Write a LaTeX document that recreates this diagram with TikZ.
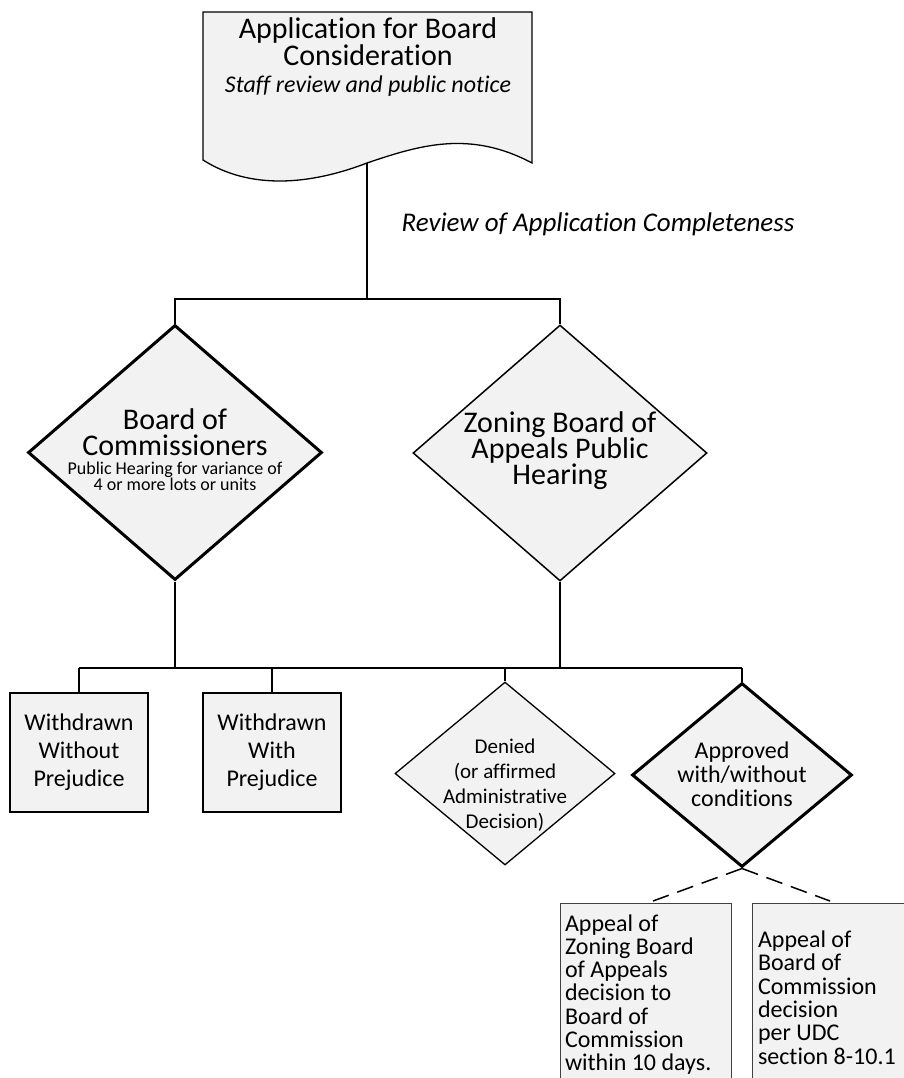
\documentclass[tikz,border=0pt]{standalone}
\usepackage{fontspec}
\setmainfont{Carlito}[Ligatures=NoCommon]
\usetikzlibrary{shapes.geometric}
\newcommand{\fsz}[2]{\fontsize{#1}{#2}\selectfont}
\definecolor{boxgray}{HTML}{F2F2F2}
\tikzset{
  decision/.style={diamond, draw, fill=boxgray, inner sep=0pt},
  outcome/.style={rectangle, draw, fill=boxgray, line width=2.2pt, inner sep=0pt, align=center},
  appealbox/.style={rectangle, draw=black!75, fill=boxgray, line width=1pt, anchor=north, inner xsep=5pt, align=flush left},
  captxt/.style={align=center, inner sep=0pt},
  link/.style={line width=1.2pt},
  trunk/.style={line width=2.2pt},
}
\begin{document}
\begin{tikzpicture}[x=1pt, y=-1pt, line join=miter]
	\useasboundingbox (0,0) rectangle (904,1078);
	\clip (0,0) rectangle (904,1078);
	\path (367,163) coordinate (appbot) (367,299) coordinate (split) (400,668) coordinate (bus);
	% application sheet
	\draw[fill=boxgray, line width=1.3pt] (203,12) -- (532,12) -- (532,163) .. controls (470,130) and (420,145) .. (appbot) .. controls (310,185) and (250,190) .. (203,160) -- cycle;
	\node[captxt, font=\fsz{30}{27}] (app) at (368,57) {Application for Board\\Consideration\\{\itshape\fsz{24}{24}Staff review and public notice}};
	\node[captxt, font=\itshape\fsz{27}{27}, anchor=base] (review) at (598,231) {Review of Application Completeness};
	% hearings
	\node[decision, line width=3pt, minimum width=294pt, minimum height=255pt] (board) at (175,452.5) {};
	\node[captxt, font=\fsz{30}{26}] (boardtxt) at (175,450) {Board of\\Commissioners\\[-7pt]{\fsz{18}{17}Public Hearing for variance of}\\[-10pt]{\fsz{18}{17}4 or more lots or units}};
	\node[decision, line width=1.5pt, minimum width=294pt, minimum height=256pt] (zba) at (560,453) {};
	\node[captxt, font=\fsz{30}{26}] (zbatxt) at (560,451) {Zoning Board of\\Appeals Public\\Hearing};
	% outcomes
	\node[outcome, minimum width=138pt, minimum height=119pt, font=\fsz{24}{28}] (wo) at (79,752.5) {Withdrawn\\Without\\Prejudice};
	\node[outcome, minimum width=138pt, minimum height=119pt, font=\fsz{24}{28}] (wp) at (272,752.5) {Withdrawn\\With\\Prejudice};
	\node[decision, line width=1.3pt, minimum width=220pt, minimum height=183pt] (denied) at (505,773.5) {};
	\node[captxt, font=\fsz{21}{25}] (deniedtxt) at (505,785) {Denied\\(or affirmed\\Administrative\\Decision)};
	\node[decision, line width=3pt, minimum width=220pt, minimum height=184pt] (approved) at (742,775) {};
	\node[captxt, font=\fsz{24}{24}] (approvedtxt) at (742,774) {Approved\\with/without\\conditions};
	% appeals
	\node[appealbox, minimum height=182pt, text width=161pt, font=\fsz{24}{23.3}] (appeal1) at (645.5,903) {Appeal of\\Zoning Board\\of Appeals\\decision to\\Board of\\Commission\\within 10 days.};
	\node[appealbox, minimum height=188pt, text width=154pt, inner xsep=6pt, font=\fsz{24}{23.3}] (appeal2) at (835,903) {Appeal of\\Board of\\Commission\\decision\\per UDC\\section 8-10.1};
	% connectors
	\draw[link] (appbot) -- (split);
	\draw[link] (board.north) |- (split) -| (zba.north);
	\draw[trunk] (board.south) -- (board.south |- bus);
	\draw[trunk] (zba.south) -- (zba.south |- bus);
	\draw[trunk] (wo.north |- bus) -- (approved.north |- bus);
	\foreach \n in {wo,wp,denied,approved}
		\draw[link] (\n.north |- bus) -- (\n.north);
	\draw[line width=1.5pt, dash pattern=on 17pt off 9pt] (approved.south) -- ([xshift=7.5pt, yshift=2pt]appeal1.north);
	\draw[line width=1.5pt, dash pattern=on 17pt off 9pt] (approved.south) -- ([xshift=-5pt, yshift=2pt]appeal2.north);
\end{tikzpicture}
\end{document}
